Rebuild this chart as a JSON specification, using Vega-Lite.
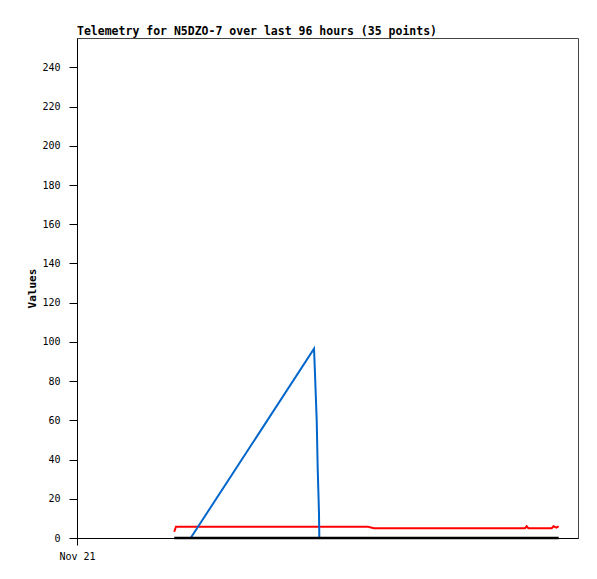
{
  "$schema": "https://vega.github.io/schema/vega-lite/v6.json",
  "autosize": "none",
  "width": 501,
  "height": 500,
  "padding": {"left": 77, "top": 38, "right": 19, "bottom": 41},
  "background": "white",
  "title": {
    "text": "Telemetry for N5DZO-7 over last 96 hours (35 points)",
    "anchor": "start",
    "frame": "group",
    "font": "DejaVu Sans Mono",
    "fontSize": 11.5,
    "fontWeight": "bold",
    "color": "#000000",
    "offset": 1
  },
  "config": {
    "view": {"stroke": "#444444", "strokeWidth": 1},
    "axis": {
      "labelFont": "DejaVu Sans Mono",
      "labelFontSize": 10,
      "labelColor": "#000000",
      "titleFont": "DejaVu Sans Mono",
      "titleFontSize": 11,
      "titleFontWeight": "bold",
      "titleColor": "#000000",
      "domainColor": "#000000",
      "tickColor": "#000000",
      "grid": false
    }
  },
  "data": {
    "values": [
      {"time": "2023-11-21T18:38:00", "series": "ch1", "value": 0},
      {"time": "2023-11-21T18:58:00", "series": "ch1", "value": 0},
      {"time": "2023-11-21T21:47:00", "series": "ch1", "value": 0},
      {"time": "2023-11-22T21:25:00", "series": "ch1", "value": 0},
      {"time": "2023-11-22T22:26:00", "series": "ch1", "value": 0},
      {"time": "2023-11-23T07:46:00", "series": "ch1", "value": 0},
      {"time": "2023-11-24T14:10:00", "series": "ch1", "value": 0},
      {"time": "2023-11-24T20:18:00", "series": "ch1", "value": 0},
      {"time": "2023-11-21T18:38:00", "series": "ch2", "value": 3.2},
      {"time": "2023-11-21T18:58:00", "series": "ch2", "value": 5.8},
      {"time": "2023-11-21T21:47:00", "series": "ch2", "value": 5.8},
      {"time": "2023-11-22T21:25:00", "series": "ch2", "value": 5.8},
      {"time": "2023-11-23T07:46:00", "series": "ch2", "value": 5.8},
      {"time": "2023-11-23T08:08:00", "series": "ch2", "value": 5.5},
      {"time": "2023-11-23T08:55:00", "series": "ch2", "value": 5},
      {"time": "2023-11-24T13:50:00", "series": "ch2", "value": 5},
      {"time": "2023-11-24T14:10:00", "series": "ch2", "value": 6},
      {"time": "2023-11-24T14:29:00", "series": "ch2", "value": 5},
      {"time": "2023-11-24T18:58:00", "series": "ch2", "value": 5},
      {"time": "2023-11-24T19:18:00", "series": "ch2", "value": 6},
      {"time": "2023-11-24T19:53:00", "series": "ch2", "value": 5.3},
      {"time": "2023-11-24T20:18:00", "series": "ch2", "value": 6},
      {"time": "2023-11-21T21:47:00", "series": "ch3", "value": 0},
      {"time": "2023-11-22T21:25:00", "series": "ch3", "value": 96.5},
      {"time": "2023-11-22T21:36:00", "series": "ch3", "value": 84},
      {"time": "2023-11-22T21:56:00", "series": "ch3", "value": 60},
      {"time": "2023-11-22T22:07:00", "series": "ch3", "value": 36},
      {"time": "2023-11-22T22:22:00", "series": "ch3", "value": 13},
      {"time": "2023-11-22T22:26:00", "series": "ch3", "value": 0}
    ]
  },
  "encoding": {
    "x": {
      "field": "time",
      "type": "temporal",
      "scale": {"domain": [{"year": 2023, "month": 11, "date": 21}, {"year": 2023, "month": 11, "date": 25}]},
      "axis": {
        "title": null,
        "values": [{"year": 2023, "month": 11, "date": 21}],
        "format": "%b %d",
        "tickSize": 7,
        "labelPadding": 6,
        "labelAlign": "center"
      }
    },
    "y": {
      "field": "value",
      "type": "quantitative",
      "scale": {"domain": [0, 255], "nice": false, "zero": true},
      "axis": {
        "title": "Values",
        "values": [0, 20, 40, 60, 80, 100, 120, 140, 160, 180, 200, 220, 240],
        "tickSize": 8,
        "labelPadding": 9,
        "titlePadding": 4
      }
    }
  },
  "layer": [
    {
      "transform": [{"filter": "datum.series == 'ch2'"}],
      "mark": {"type": "line", "color": "#ff0000", "strokeWidth": 2, "interpolate": "linear"}
    },
    {
      "transform": [{"filter": "datum.series == 'ch3'"}],
      "mark": {"type": "line", "color": "#0066cc", "strokeWidth": 2, "interpolate": "linear"}
    },
    {
      "transform": [{"filter": "datum.series == 'ch1'"}],
      "mark": {"type": "line", "color": "#000000", "strokeWidth": 2.5, "interpolate": "linear"}
    }
  ]
}
